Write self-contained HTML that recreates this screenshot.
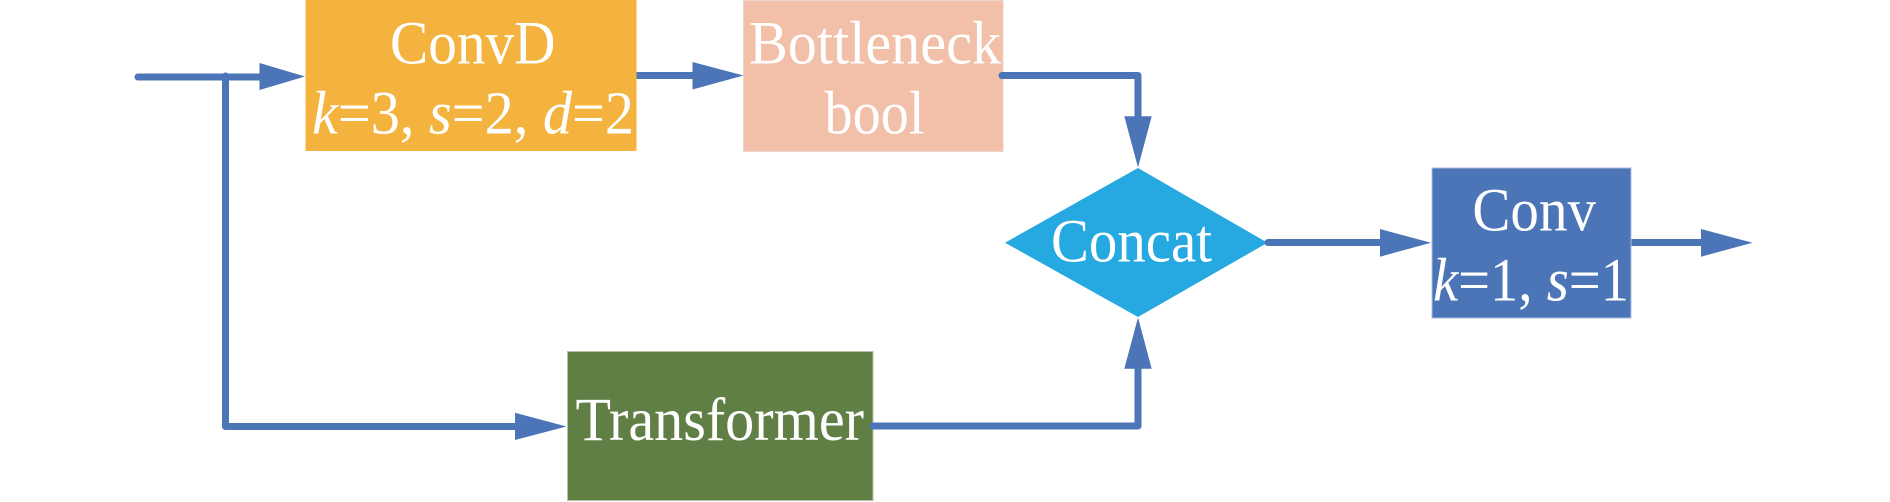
<!DOCTYPE html>
<html>
<head>
<meta charset="utf-8">
<style>
html,body{margin:0;padding:0;background:#fff;}
svg{display:block;}
text{font-family:"Liberation Serif",serif;font-size:61px;fill:#fff;}
</style>
</head>
<body>
<svg width="1890" height="502" viewBox="0 0 1890 502" xmlns="http://www.w3.org/2000/svg">
<rect width="1890" height="502" fill="#fff"/>
<!-- connectors that emerge from behind their box -->
<g fill="none" stroke="#4C75B8" stroke-width="7" stroke-linecap="butt">
<path d="M630 75.5H695"/>
<path d="M1625 242.5H1703"/>
</g>
<!-- boxes -->
<rect x="305.5" y="0" width="331" height="151" fill="#F4B33F"/>
<rect x="743.5" y="0.5" width="259.5" height="151" fill="#F2BFA8" stroke="#e8d5cc" stroke-width="1"/>
<rect x="567.5" y="351.5" width="305.5" height="149" fill="#607F45" stroke="#b5c4a8" stroke-width="1"/>
<rect x="1432" y="168" width="199" height="150" fill="#4C75B8" stroke="#a9bcdc" stroke-width="1"/>
<polygon points="1005,242.7 1138,168 1267.5,242.7 1138,317" fill="#25A9E0"/>
<!-- connectors -->
<g fill="none" stroke="#4C75B8" stroke-width="7" stroke-linecap="round" stroke-linejoin="round">
<path d="M138 77H262"/>
<path d="M225.5 76V426.5H518"/>
<path d="M1002 75.5H1138V118"/>
<path d="M873 426H1138V367"/>
<path d="M1268 242.5H1382"/>
</g>
<g fill="#4C75B8">
<polygon points="259.5,63 305,76.5 259.5,90"/>
<polygon points="692.5,62 743.5,75.5 692.5,89.5"/>
<polygon points="1124.3,116.3 1151.7,116.3 1138,167.5"/>
<polygon points="515,412.7 566.5,426.5 515,440"/>
<polygon points="1124.3,368.7 1151.7,368.7 1138,317.5"/>
<polygon points="1380,229 1431,242.7 1380,256.7"/>
<polygon points="1701,229 1752.5,242.7 1701,256.7"/>
</g>
<!-- labels -->
<text x="390" y="63.5" textLength="165.5" lengthAdjust="spacingAndGlyphs">ConvD</text>
<text x="312" y="133.5" textLength="322" lengthAdjust="spacingAndGlyphs"><tspan font-style="italic">k</tspan>=3, <tspan font-style="italic">s</tspan>=2, <tspan font-style="italic">d</tspan>=2</text>
<text x="749" y="63.5" textLength="252" lengthAdjust="spacingAndGlyphs">Bottleneck</text>
<text x="824.5" y="133.5" textLength="100" lengthAdjust="spacingAndGlyphs">bool</text>
<text x="1051" y="261.5" textLength="161" lengthAdjust="spacingAndGlyphs">Concat</text>
<text x="1472.4" y="230.7" textLength="123.6" lengthAdjust="spacingAndGlyphs">Conv</text>
<text x="1433" y="300.7" textLength="196" lengthAdjust="spacingAndGlyphs"><tspan font-style="italic">k</tspan>=1, <tspan font-style="italic">s</tspan>=1</text>
<text x="575.5" y="440" textLength="288.5" lengthAdjust="spacingAndGlyphs">Transformer</text>
</svg>
</body>
</html>
